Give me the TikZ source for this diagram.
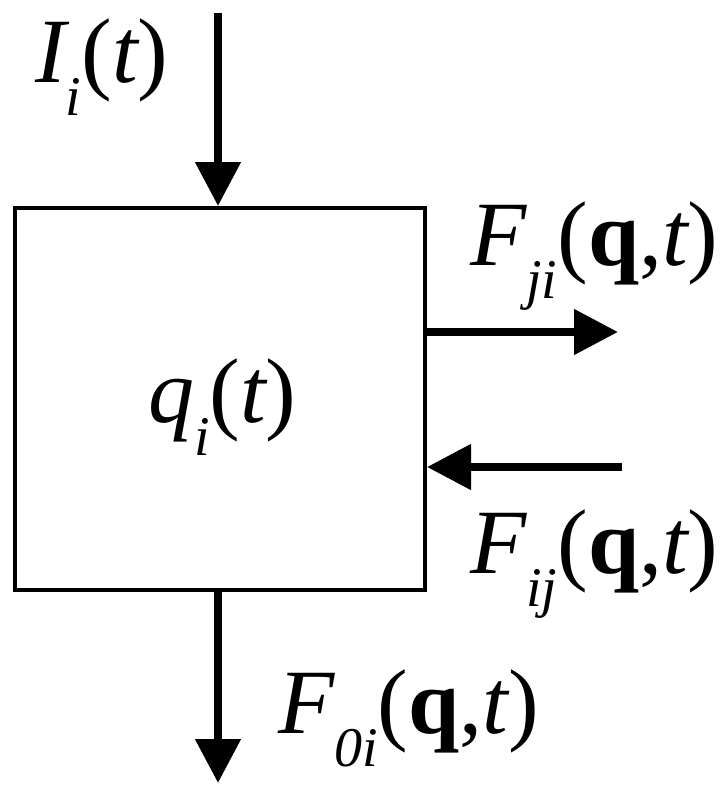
\documentclass[tikz,border=0pt]{standalone}
\usepackage{fontspec}
\setmainfont{Liberation Serif}
\usetikzlibrary{arrows.meta}
\newcommand\lsub[1]{\raisebox{-0.36em}{\fontsize{56}{60}\selectfont\itshape #1}}
\tikzset{
  lbl/.style={anchor=base west, inner sep=0pt, font=\fontsize{92}{100}\selectfont},
  flow/.style={line width=8pt, -{Triangle[length=44pt,width=44pt]}},
  boxstyle/.style={draw, line width=4pt, minimum width=410pt, minimum height=382pt, inner sep=0pt}
}
\begin{document}
\begin{tikzpicture}[x=1pt,y=-1pt]
\useasboundingbox (0,0) rectangle (728,798);
\node[boxstyle] (box) at (220,399) {};
\node[lbl] (q) at (148,422) {{\itshape q}\lsub{i}({\itshape t})};
\node[lbl] (I) at (35,82) {{\itshape I}\lsub{i}({\itshape t})};
\node[lbl] (Fji) at (470,265) {{\itshape F}\lsub{ji}(\textbf{q},{\itshape t})};
\node[lbl] (Fij) at (470,573) {{\itshape F}\lsub{ij}(\textbf{q},{\itshape t})};
\node[lbl] (F0i) at (278,733) {{\itshape F}\lsub{0i}(\textbf{q},{\itshape t})};
\coordinate (in1) at (218,13);
\coordinate (out1) at (618,332);
\coordinate (in2) at (622,467);
\coordinate (out2) at (218,783);
\draw[flow] (in1) -- (in1 |- box.north);
\draw[flow] (box.east |- out1) -- (out1);
\draw[flow] (in2) -- (box.east |- in2);
\draw[flow] (out2 |- box.south) -- (out2);
\end{tikzpicture}
\end{document}
